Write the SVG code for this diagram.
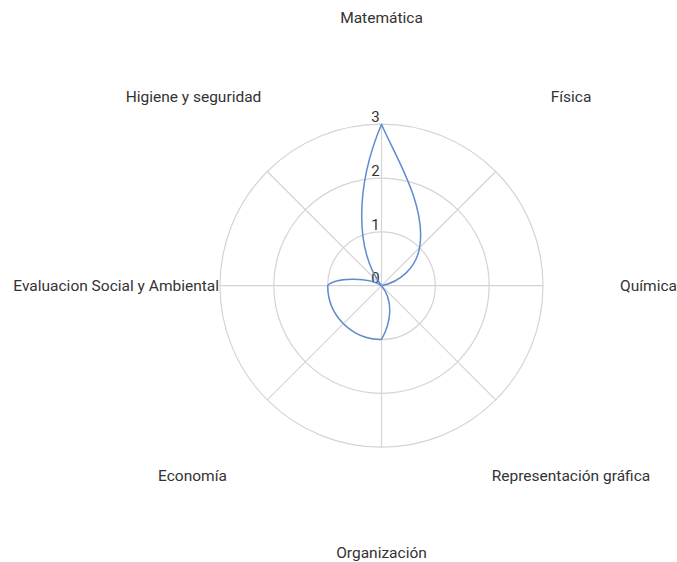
<svg xmlns="http://www.w3.org/2000/svg" width="677" height="562" viewBox="0 0 677 562">
<style>
.grid{fill:none;stroke:#d4d4d4;stroke-width:1.2}
.lbl{font-family:Roboto,"Liberation Sans",sans-serif;font-size:15.5px;fill:#333}
.tick{font-family:Roboto,"Liberation Sans",sans-serif;font-size:15px;fill:#333;text-anchor:middle}
.data{fill:none;stroke:#5f8ccf;stroke-width:1.5;stroke-linejoin:round}
</style>
<rect width="677" height="562" fill="#fff"/>
<g id="grid">
<circle class="grid" cx="381.5" cy="285.7" r="53.83"/>
<circle class="grid" cx="381.5" cy="285.7" r="107.67"/>
<circle class="grid" cx="381.5" cy="285.7" r="161.5"/>
<line class="grid" x1="381.5" y1="285.7" x2="381.5" y2="124.2"/>
<line class="grid" x1="381.5" y1="285.7" x2="495.7" y2="171.5"/>
<line class="grid" x1="381.5" y1="285.7" x2="543" y2="285.7"/>
<line class="grid" x1="381.5" y1="285.7" x2="495.7" y2="399.9"/>
<line class="grid" x1="381.5" y1="285.7" x2="381.5" y2="447.2"/>
<line class="grid" x1="381.5" y1="285.7" x2="267.3" y2="399.9"/>
<line class="grid" x1="381.5" y1="285.7" x2="220" y2="285.7"/>
<line class="grid" x1="381.5" y1="285.7" x2="267.3" y2="171.5"/>
</g>
<g id="ticks">
<text class="tick" x="375.5" y="121.5">3</text>
<text class="tick" x="375.5" y="176">2</text>
<text class="tick" x="375.5" y="229.8">1</text>
<text class="tick" x="375.5" y="283.3">0</text>
</g>
<g id="connectors">
<path class="data" d="M381.5,124.2 C394,154 427,205 419.6,247.6 C416,268 400,282 381.5,285.7 C393.5,300.7 391.5,321.5 381.5,339.5 A53.83,53.83 0 0 1 327.7,285.7 C333,278 368,276 381.5,285.7 C355.1,250.7 355.1,187.2 381.5,124.2 Z"/>
</g>
<g id="n-matematica"><text class="lbl" x="381.5" y="23" text-anchor="middle">Matemática</text></g>
<g id="n-fisica"><text class="lbl" x="571" y="101.5" text-anchor="middle">Física</text></g>
<g id="n-quimica"><text class="lbl" x="620" y="291" text-anchor="start">Química</text></g>
<g id="n-representacion"><text class="lbl" x="571" y="480.5" text-anchor="middle">Representación gráfica</text></g>
<g id="n-organizacion"><text class="lbl" x="381.5" y="558" text-anchor="middle">Organización</text></g>
<g id="n-economia"><text class="lbl" x="192.5" y="480.5" text-anchor="middle">Economía</text></g>
<g id="n-evaluacion"><text class="lbl" x="219" y="291" text-anchor="end">Evaluacion Social y Ambiental</text></g>
<g id="n-higiene"><text class="lbl" x="193.5" y="101.5" text-anchor="middle">Higiene y seguridad</text></g>
</svg>
